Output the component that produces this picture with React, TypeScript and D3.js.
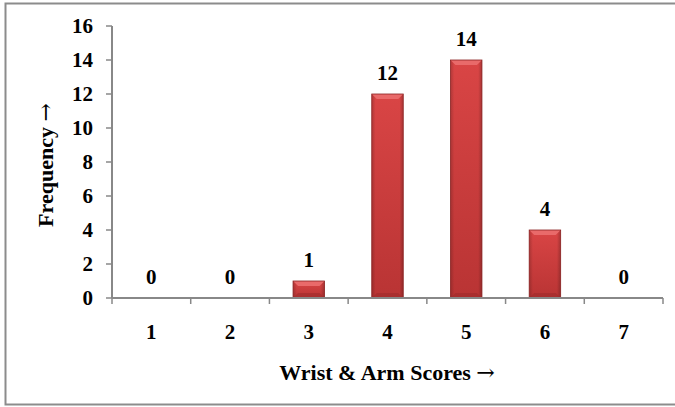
import React from "react";
import * as d3 from "d3";

const categories = ["1", "2", "3", "4", "5", "6", "7"];
const frequencies = [0, 0, 1, 12, 14, 4, 0];
const yTicks = [0, 2, 4, 6, 8, 10, 12, 14, 16];

const W = 675;
const H = 407;
const margin = { left: 112, right: 12, top: 26, bottom: 109 };
const FONT = "'Liberation Serif', 'Times New Roman', serif";
const ARROW_FONT = "'DejaVu Serif', serif";
const FS = 21;
const TITLE_FS = 22;

export default function App() {
  const x = d3
    .scaleBand<string>()
    .domain(categories)
    .range([margin.left, W - margin.right])
    .paddingInner(0.6)
    .paddingOuter(0.3);
  const y = d3.scaleLinear().domain([0, 16]).range([H - margin.bottom, margin.top]);
  const step = x.step();
  const x0 = margin.left;
  const x1 = W - margin.right;
  const y0 = y(0);
  const bevel = 5;

  return (
    <svg
      width={W}
      height={H}
      style={{ position: "absolute", left: 0, top: 0 }}
      fontFamily={FONT}
    >
      <defs>
        <linearGradient id="barFill" x1="0" y1="0" x2="0" y2="1">
          <stop offset="0" stopColor="#d94545" />
          <stop offset="1" stopColor="#b93434" />
        </linearGradient>
        <linearGradient id="barSide" x1="0" y1="0" x2="1" y2="0">
          <stop offset="0" stopColor="#000" stopOpacity="0.18" />
          <stop offset="0.12" stopColor="#000" stopOpacity="0" />
          <stop offset="0.88" stopColor="#000" stopOpacity="0" />
          <stop offset="1" stopColor="#000" stopOpacity="0.22" />
        </linearGradient>
      </defs>
      <rect x={0} y={0} width={W} height={H} fill="#fff" />
      <rect x={5.5} y={3.5} width={W + 10} height={401} fill="none" stroke="#8c8c8c" strokeWidth={2} />

      {/* bars */}
      {frequencies.map((v, i) => {
        if (v <= 0) return null;
        const bx = x(categories[i])!;
        const bw = x.bandwidth();
        const by = y(v);
        const bh = y0 - by;
        const b = Math.min(bevel, bh / 2);
        return (
          <g key={i}>
            <rect x={bx} y={by} width={bw} height={bh} fill="url(#barFill)" />
            <rect x={bx} y={by} width={bw} height={bh} fill="url(#barSide)" />
            <polygon
              points={`${bx},${by} ${bx + bw},${by} ${bx + bw - b},${by + b} ${bx + b},${by + b}`}
              fill="#e96a6a"
            />
            <polygon
              points={`${bx},${y0} ${bx + bw},${y0} ${bx + bw - b},${y0 - b} ${bx + b},${y0 - b}`}
              fill="#9e2c2c"
              opacity={0.6}
            />
            <rect x={bx} y={by} width={bw} height={bh} fill="none" stroke="#8a2222" strokeWidth={0.8} />
          </g>
        );
      })}

      {/* y axis */}
      <line x1={x0} x2={x0} y1={y(16)} y2={y0} stroke="#888" strokeWidth={2} />
      {yTicks.map((t) => (
        <g key={t}>
          <line x1={x0 - 6} x2={x0} y1={y(t)} y2={y(t)} stroke="#888" strokeWidth={1.5} />
          <text
            x={x0 - 19}
            y={y(t)}
            dy="0.35em"
            textAnchor="end"
            fontSize={FS}
            fontWeight="bold"
          >
            {t}
          </text>
        </g>
      ))}

      {/* x axis */}
      <line x1={x0} x2={x1} y1={y0} y2={y0} stroke="#888" strokeWidth={2} />
      {d3.range(categories.length + 1).map((i) => (
        <line
          key={i}
          x1={x0 + i * step}
          x2={x0 + i * step}
          y1={y0}
          y2={y0 + 6}
          stroke="#888"
          strokeWidth={1.5}
        />
      ))}
      {categories.map((c) => (
        <text
          key={c}
          x={x(c)! + x.bandwidth() / 2}
          y={332}
          dy="0.35em"
          textAnchor="middle"
          fontSize={FS}
          fontWeight="bold"
        >
          {c}
        </text>
      ))}

      {/* value labels */}
      {frequencies.map((v, i) => (
        <text
          key={i}
          x={x(categories[i])! + x.bandwidth() / 2}
          y={y(v) - 14}
          textAnchor="middle"
          fontSize={FS}
          fontWeight="bold"
        >
          {v}
        </text>
      ))}

      {/* axis titles */}
      <text
        x={387}
        y={372}
        dy="0.35em"
        textAnchor="middle"
        fontSize={TITLE_FS}
        fontWeight="bold"
      >
        Wrist &amp; Arm Scores{" "}
        <tspan fontFamily={ARROW_FONT} fontWeight="normal">→</tspan>
      </text>
      <text
        transform="translate(45, 165) rotate(-90)"
        dy="0.35em"
        textAnchor="middle"
        fontSize={TITLE_FS}
        fontWeight="bold"
      >
        Frequency{" "}
        <tspan fontFamily={ARROW_FONT} fontWeight="normal">→</tspan>
      </text>
    </svg>
  );
}
